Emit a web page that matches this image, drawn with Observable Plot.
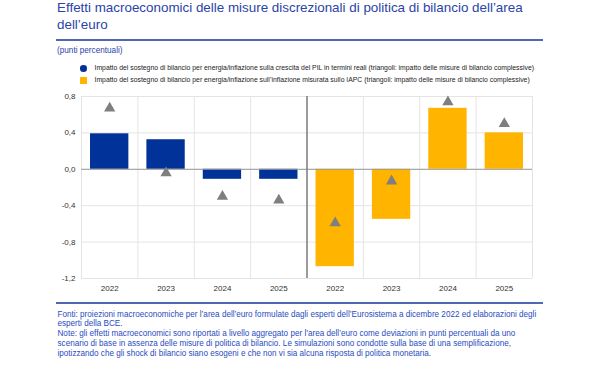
<!DOCTYPE html>
<html><head><meta charset="utf-8">
<script src="https://cdn.jsdelivr.net/npm/d3@7"></script>
<script src="https://cdn.jsdelivr.net/npm/@observablehq/plot@0.6"></script>
<style>
body{margin:0;background:#fff;font-family:"Liberation Sans",Arial,sans-serif;}
#wrap{position:relative;width:600px;height:374px;overflow:hidden;}
.abs{position:absolute;white-space:nowrap;}
.title{left:57px;font-size:13.4px;color:#2a44a8;}
.rule{left:56px;width:487px;height:2px;background:#4f68b4;}
#unit{left:57px;top:46.3px;font-size:8.2px;line-height:10px;color:#2a44a8;}
.leg{left:94.5px;font-size:6.85px;line-height:8px;color:#222;}
.sw{position:absolute;}
#notes{left:57.5px;top:309.5px;font-size:8.15px;line-height:9.75px;color:#2a4cc0;}
#chart{left:0;top:85px;}
</style></head>
<body><div id="wrap">
<div class="abs title" style="top:0.3px;line-height:15.1px">Effetti macroeconomici delle misure discrezionali di politica di bilancio dell’area</div>
<div class="abs title" style="top:16.1px;line-height:18.4px">dell’euro</div>
<div class="abs rule" style="top:38.5px"></div>
<div id="unit" class="abs">(punti percentuali)</div>
<div class="sw" style="left:80px;top:65px;width:6.6px;height:6.6px;border-radius:50%;background:#003299"></div>
<div class="abs leg" style="top:63.7px">Impatto del sostegno di bilancio per energia/inflazione sulla crescita del PIL in termini reali (triangoli: impatto delle misure di bilancio complessive)</div>
<div class="sw" style="left:80px;top:77px;width:6.5px;height:6.5px;background:#ffb400"></div>
<div class="abs leg" style="top:75.7px">Impatto del sostegno di bilancio per energia/inflazione sull’inflazione misurata sullo IAPC (triangoli: impatto delle misure di bilancio complessive)</div>
<div id="chart" class="abs"></div>
<div class="abs rule" style="top:301.8px"></div>
<div id="notes" class="abs">Fonti: proiezioni macroeconomiche per l’area dell’euro formulate dagli esperti dell’Eurosistema a dicembre 2022 ed elaborazioni degli<br>esperti della BCE.<br>Note: gli effetti macroeconomici sono riportati a livello aggregato per l’area dell’euro come deviazioni in punti percentuali da uno<br>scenario di base in assenza delle misure di politica di bilancio. Le simulazioni sono condotte sulla base di una semplificazione,<br>ipotizzando che gli shock di bilancio siano esogeni e che non vi sia alcuna risposta di politica monetaria.</div>
</div>
<script>
const years = ["2022", "2023", "2024", "2025"];
const seriesNames = ["PIL", "IAPC"];
const gdpBars = [0.39, 0.325, -0.11, -0.11];
const gdpTriangles = [0.67, -0.04, -0.30, -0.34];
const hicpBars = [-1.07, -0.55, 0.67, 0.40];
const hicpTriangles = [-0.59, -0.13, 0.74, 0.50];
const yTicks = [-1.2, -0.8, -0.4, 0, 0.4, 0.8];

const data = [];
years.forEach((y, i) => data.push({slot: i, year: y, series: "PIL", bar: gdpBars[i], tri: gdpTriangles[i]}));
years.forEach((y, i) => data.push({slot: i + 4, year: y, series: "IAPC", bar: hicpBars[i], tri: hicpTriangles[i]}));

const fmt = d => d3.format(".1f")(d).replace(".", ",").replace("−", "-");
const slots = d3.range(data.length);

const chart = Plot.plot({
  width: 600, height: 215,
  marginLeft: 81, marginRight: 68, marginTop: 11, marginBottom: 22,
  style: {fontFamily: "Liberation Sans, Arial, sans-serif", fontSize: "8px", color: "#333"},
  x: {domain: [0, 8], ticks: slots.map(s => s + 0.5), tickFormat: d => data[Math.floor(d)].year, tickSize: 0, tickPadding: 7, label: null},
  y: {domain: [-1.2, 0.8], ticks: yTicks, tickFormat: fmt, tickSize: 0, tickPadding: 6, label: null},
  color: {domain: seriesNames, range: ["#003299", "#ffb400"]},
  marks: [
    Plot.ruleY(yTicks, {stroke: "#e4e4e4", strokeWidth: 1}),
    Plot.ruleX(d3.range(9).filter(d => d !== 4), {stroke: "#e4e4e4", strokeWidth: 1}),
    Plot.rectY(data, {x1: d => d.slot + 0.16, x2: d => d.slot + 0.84, y: "bar", fill: "series"}),
    Plot.ruleY([0], {stroke: "#9a9a9a", strokeWidth: 1}),
    Plot.ruleX([4], {stroke: "#7a7a7a", strokeWidth: 1.5}),
    Plot.dot(data, {x: d => d.slot + 0.5, y: "tri", symbol: "triangle", r: 4.2, fill: "#7f7f7f", stroke: "none"})
  ]
});
document.getElementById("chart").appendChild(chart);
</script>
</body></html>
